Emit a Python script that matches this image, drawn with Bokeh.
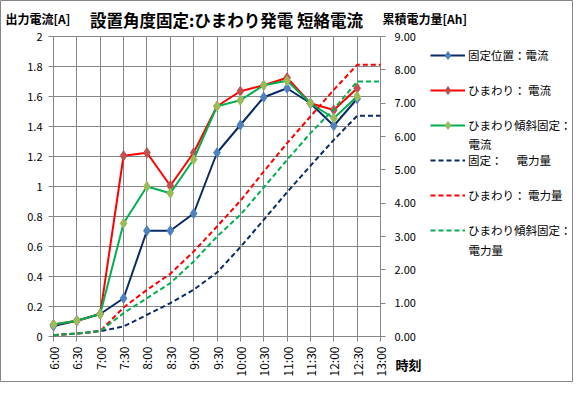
import math
from bokeh.plotting import figure
from bokeh.models import (Range1d, LinearAxis, FixedTicker, NumeralTickFormatter,
                          Legend, LegendItem, Label)
from bokeh.embed import file_html
from bokeh.resources import INLINE

# ---- data ----
times = ["6:00", "6:30", "7:00", "7:30", "8:00", "8:30", "9:00", "9:30",
         "10:00", "10:30", "11:00", "11:30", "12:00", "12:30", "13:00"]
current_times = times[:14]

fixed_current = [0.07, 0.105, 0.15, 0.255, 0.705, 0.705, 0.82, 1.225,
                 1.41, 1.595, 1.655, 1.555, 1.405, 1.585]
sun_current = [0.08, 0.105, 0.15, 1.205, 1.225, 1.005, 1.225, 1.535,
               1.635, 1.675, 1.725, 1.555, 1.51, 1.655]
tilt_current = [0.08, 0.105, 0.15, 0.755, 1.0, 0.955, 1.18, 1.535,
                1.575, 1.675, 1.705, 1.555, 1.455, 1.6]

fixed_ah = [0.04, 0.09, 0.16, 0.30, 0.65, 1.0, 1.40, 1.92,
            2.68, 3.5, 4.33, 5.12, 5.9, 6.62, 6.62]
sun_ah = [0.04, 0.09, 0.16, 0.87, 1.40, 1.88, 2.55, 3.3,
          4.07, 4.95, 5.8, 6.6, 7.4, 8.15, 8.15]
tilt_ah = [0.04, 0.09, 0.16, 0.70, 1.15, 1.60, 2.25, 3.0,
           3.65, 4.47, 5.3, 6.1, 6.82, 7.65, 7.65]

left_ticks = [0, 0.2, 0.4, 0.6, 0.8, 1, 1.2, 1.4, 1.6, 1.8, 2]
right_ticks = [0, 1, 2, 3, 4, 5, 6, 7, 8, 9]

title_text = "設置角度固定:ひまわり発電 短絡電流"
left_title = "出力電流[A]"
right_title = "累積電力量[Ah]"
x_title = "時刻"
legend_labels = ["固定位置：電流", "ひまわり： 電流", "ひまわり傾斜固定：",
                 "固定：　 電力量", "ひまわり： 電力量", "ひまわり傾斜固定："]
legend_second = ["電流", "電力量"]

FONT = "Noto Sans CJK JP"
GRID = "#868686"

# ---- geometry (canvas pixels) ----
W, H = 573, 382
PX_L, PX_R, PX_T, PX_B = 53, 380, 36, 336

x_all = list(range(len(times)))
x_cur = list(range(len(current_times)))
n_x = len(times) - 1
y_max = left_ticks[-1]
ah_max = right_ticks[-1]

xs = n_x / (PX_R - PX_L)
ys = y_max / (PX_B - PX_T)
ahs = ah_max / (PX_B - PX_T)

p = figure(width=W, height=H, output_backend="svg", toolbar_location=None,
           x_range=Range1d(-PX_L * xs, n_x + (W - PX_R) * xs),
           y_range=Range1d(-(H - PX_B) * ys, y_max + PX_T * ys),
           min_border=0, min_border_left=0, min_border_right=0,
           min_border_top=0, min_border_bottom=0, title=None)
p.background_fill_color = "white"
p.border_fill_color = "white"
p.outline_line_color = GRID
p.xgrid.visible = False
p.ygrid.visible = False

p.extra_y_ranges = {"ah": Range1d(-(H - PX_B) * ahs, ah_max + PX_T * ahs)}

# axes (drawn at fixed positions; long inward ticks act as the grid)
xa = p.xaxis[0]
xa.ticker = FixedTicker(ticks=x_all)
xa.major_label_overrides = {i: t for i, t in enumerate(times)}
xa.major_label_orientation = math.pi / 2
xa.fixed_location = 0
xa.bounds = (0, n_x)
xa.major_tick_in = PX_B - PX_T

ya = p.yaxis[0]
ya.ticker = FixedTicker(ticks=left_ticks)
ya.formatter = NumeralTickFormatter(format="0.[0]")
ya.fixed_location = 0
ya.bounds = (0, y_max)
ya.major_tick_in = PX_R - PX_L

ra = LinearAxis(y_range_name="ah", ticker=FixedTicker(ticks=right_ticks),
                formatter=NumeralTickFormatter(format="0.00"),
                fixed_location=n_x, bounds=(0, ah_max))
ra.major_tick_in = 0
p.add_layout(ra, "right")

for ax in (xa, ya, ra):
    ax.level = "underlay"
    ax.axis_line_color = GRID
    ax.major_tick_line_color = GRID
    ax.minor_tick_line_color = None
    ax.major_tick_out = 5
    ax.major_label_text_font = FONT
    ax.major_label_text_color = "black"
xa.major_label_text_font_size = "12px"
xa.major_label_standoff = 5
ya.major_label_text_font_size = "11px"
ya.major_label_standoff = 6
ra.major_label_text_font_size = "11px"
ra.major_label_standoff = 9

# series
NAVY, RED, GREEN = "#0A2A66", "#FF0000", "#00B050"
series = [
    (fixed_current, NAVY, "#4F81BD"),
    (sun_current, RED, "#C0504D"),
    (tilt_current, GREEN, "#9BBB59"),
]
items = []
for vals, lc, mc in series:
    ln = p.line(x_cur, vals, line_color=lc, line_width=2)
    sc = p.scatter(x_cur, vals, marker="diamond", size=10,
                   fill_color=mc, line_color=mc)
    items.append([ln, sc])

for vals, lc in [(fixed_ah, NAVY), (sun_ah, RED), (tilt_ah, GREEN)]:
    ln = p.line(x_all, vals, line_color=lc, line_width=2, line_dash="5 3",
                y_range_name="ah")
    items.append([ln])

# legend: top at canvas y=45, 6 rows with 35px pitch
LEG_TOP, ROW, GAP = 45, 20, 15
leg_h = len(legend_labels) * ROW + (len(legend_labels) - 1) * GAP
legend = Legend(items=[LegendItem(label=l, renderers=r) for l, r in zip(legend_labels, items)],
                location=(430, H - (LEG_TOP + leg_h)), orientation="vertical",
                glyph_width=35, glyph_height=ROW, label_height=ROW, spacing=GAP,
                padding=0, margin=0, label_standoff=3,
                label_text_font=FONT, label_text_font_size="11.5px",
                label_text_color="black",
                border_line_color=None, background_fill_alpha=0)
p.add_layout(legend, "center")


def lab(text, x, y, size, bold=True, align="left"):
    p.add_layout(Label(x=x, y=y, x_units="canvas", y_units="canvas", text=text,
                       text_font=FONT, text_font_size=size,
                       text_font_style="bold" if bold else "normal",
                       text_align=align, text_baseline="middle", text_color="black"))


lab(title_text, 226, 19, "16.5px", align="center")
lab(left_title, 5, 18, "12px")
lab(right_title, 382, 18, "12px")
lab(x_title, 395, 364, "13px")
lab(legend_second[0], 468, 143, "11.5px", bold=False)
lab(legend_second[1], 468, 249, "11.5px", bold=False)

open("out.html", "w").write(file_html(p, INLINE))
